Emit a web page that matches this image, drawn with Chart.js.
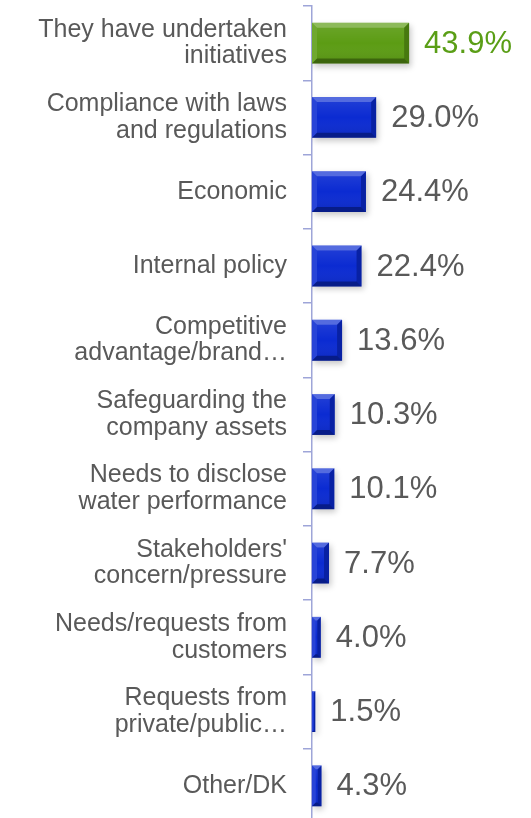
<!DOCTYPE html>
<html>
<head>
<meta charset="utf-8">
<script src="https://cdn.jsdelivr.net/npm/chart.js@4"></script>
<style>
  html, body { margin: 0; padding: 0; background: #fff; overflow: hidden; }
  #wrap { width: 531px; height: 818px; overflow: hidden; }
</style>
</head>
<body>
<div id="wrap"><canvas id="chart" width="531" height="824"></canvas></div>
<script>
// reasons for acting on water (share of respondents, %)
const categories = [
  ["They have undertaken", "initiatives"],
  ["Compliance with laws", "and regulations"],
  "Economic",
  "Internal policy",
  ["Competitive", "advantage/brand…"],
  ["Safeguarding the", "company assets"],
  ["Needs to disclose", "water performance"],
  ["Stakeholders'", "concern/pressure"],
  ["Needs/requests from", "customers"],
  ["Requests from", "private/public…"],
  "Other/DK"
];
const values = [43.9, 29.0, 24.4, 22.4, 13.6, 10.3, 10.1, 7.7, 4.0, 1.5, 4.3];

const FONT = '"Liberation Sans", Arial, sans-serif';
const GREY = "#595959";
const AXIS = "#9ea5d8";

const fills = values.map((v, i) => i === 0 ? "#5c9c14" : "#0b2bd2");

// shadow under bars, then bevel edges and the value text
const bevelBars = {
  id: "bevelBars",
  beforeDatasetsDraw(chart) {
    const ctx = chart.ctx;
    ctx.save();
    ctx.shadowColor = "rgba(0,0,0,0.22)";
    ctx.shadowBlur = 6;
    ctx.shadowOffsetX = 2;
    ctx.shadowOffsetY = 3;
  },
  afterDatasetsDraw(chart) {
    const ctx = chart.ctx;
    ctx.restore();
    const meta = chart.getDatasetMeta(0);
    meta.data.forEach((bar, i) => {
      const { x, y, base, height } = bar.getProps(["x", "y", "base", "height"], true);
      const l = base, r = x, t = y - height / 2, b = y + height / 2;
      const w = r - l;
      const e = Math.min(5, w / 2.5);
      const poly = (pts, color) => {
        ctx.beginPath();
        ctx.moveTo(pts[0][0], pts[0][1]);
        pts.slice(1).forEach(p => ctx.lineTo(p[0], p[1]));
        ctx.closePath();
        ctx.fillStyle = color;
        ctx.fill();
      };
      ctx.save();
      // top edge light
      poly([[l, t], [r, t], [r - e, t + e], [l + e, t + e]], "rgba(255,255,255,0.30)");
      // left edge light
      poly([[l, t], [l + e, t + e], [l + e, b - e], [l, b]], "rgba(255,255,255,0.12)");
      // bottom edge dark
      poly([[l, b], [l + e, b - e], [r - e, b - e], [r, b]], "rgba(0,0,0,0.35)");
      // right edge dark
      poly([[r, t], [r, b], [r - e, b - e], [r - e, t + e]], "rgba(0,0,0,0.22)");
      // soft gloss on the face
      const g = ctx.createLinearGradient(0, t, 0, b);
      g.addColorStop(0, "rgba(255,255,255,0.10)");
      g.addColorStop(0.5, "rgba(255,255,255,0)");
      g.addColorStop(1, "rgba(0,0,0,0.10)");
      ctx.fillStyle = g;
      ctx.fillRect(l + e, t + e, Math.max(0, w - 2 * e), Math.max(0, height - 2 * e));
      ctx.restore();

      ctx.save();
      ctx.font = "31px " + FONT;
      ctx.fillStyle = i === 0 ? "#5a9e16" : GREY;
      ctx.textAlign = "left";
      ctx.textBaseline = "middle";
      ctx.fillText(values[i].toFixed(1) + "%", r + 15, y + 1);
      ctx.restore();
    });
  }
};

new Chart(document.getElementById("chart"), {
  type: "bar",
  data: {
    labels: categories,
    datasets: [{
      data: values,
      backgroundColor: fills,
      borderWidth: 0,
      barPercentage: 0.55,
      categoryPercentage: 1
    }]
  },
  options: {
    indexAxis: "y",
    responsive: false,
    animation: false,
    layout: { padding: { top: 6, bottom: 1, left: 0, right: 0 } },
    plugins: { legend: { display: false }, tooltip: { enabled: false } },
    scales: {
      x: { display: false, min: 0, max: 99 },
      y: {
        afterFit(scale) {
          scale.width = 312;
          scale.paddingTop = 0;
          scale.paddingBottom = 0;
        },
        border: { display: true, color: AXIS, width: 1.5 },
        grid: {
          offset: true,
          drawOnChartArea: false,
          drawTicks: true,
          tickLength: 9,
          color: AXIS,
          lineWidth: 1.5
        },
        ticks: {
          padding: 16,
          color: GREY,
          font: { family: FONT, size: 25, lineHeight: 1.07 }
        }
      }
    }
  },
  plugins: [bevelBars]
});
</script>
</body>
</html>
